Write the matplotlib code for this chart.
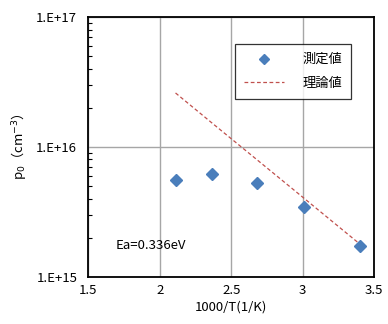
import matplotlib
matplotlib.use('Agg')
import matplotlib.pyplot as plt
from matplotlib.ticker import LogLocator, FixedLocator, NullFormatter

plt.rcParams['font.family'] = ['Noto Sans CJK JP', 'DejaVu Sans']
plt.rcParams['mathtext.fontset'] = 'dejavusans'

# measured data (1000/T, p0)
inv_t = [2.11, 2.367, 2.68, 3.006, 3.40]
p0_meas = [5.6e15, 6.2e15, 5.3e15, 3.45e15, 1.72e15]

# theoretical values at the same temperatures
p0_theory = [2.6e16, 1.52e16, 7.95e15, 4.04e15, 1.78e15]

x_ticks = [1.5, 2, 2.5, 3, 3.5]
y_ticks = [1e15, 1e16, 1e17]
y_labels = ['1.E+15', '1.E+16', '1.E+17']

fs = 9.5

fig = plt.figure(figsize=(3.88, 3.24), dpi=100)
ax = fig.add_axes([88.3 / 388, 1 - 276.7 / 324, 286 / 388, 259.7 / 324])

ax.plot(inv_t, p0_meas, linestyle='none', marker='D', markersize=6,
        color='#4a7ebb', label='測定値', zorder=3)
ax.plot(inv_t, p0_theory, linestyle=(0, (3, 2)), linewidth=0.9,
        color='#c0504d', label='理論値', zorder=2)

ax.set_yscale('log')
ax.set_xlim(1.5, 3.5)
ax.set_ylim(1e15, 1e17)
ax.xaxis.set_major_locator(FixedLocator(x_ticks))
ax.set_xticklabels(['1.5', '2', '2.5', '3', '3.5'])
ax.yaxis.set_major_locator(FixedLocator(y_ticks))
ax.set_yticklabels(y_labels)
ax.yaxis.set_minor_locator(LogLocator(base=10, subs=range(2, 10)))
ax.yaxis.set_minor_formatter(NullFormatter())

ax.grid(True, which='major', color='#a6a6a6', linewidth=1.0)
ax.tick_params(axis='x', which='both', length=0, labelsize=fs, pad=5)
ax.tick_params(axis='y', which='major', length=0, labelsize=fs, pad=8)
ax.tick_params(axis='y', which='minor', direction='in', length=3, width=0.8)
for s in ax.spines.values():
    s.set_linewidth(1.3)
    s.set_color('black')

ax.set_xlabel('1000/T(1/K)', fontsize=fs, labelpad=3)
ax.set_ylabel('p$_0$（cm$^{-3}$）', fontsize=fs, labelpad=6)

ax.text(0.095, 0.12, 'Ea=0.336eV', transform=ax.transAxes, fontsize=fs,
        va='center', ha='left')

leg = ax.legend(loc='upper right', bbox_to_anchor=(0.92, 0.896), fontsize=fs,
                frameon=True, fancybox=False, edgecolor='black',
                borderaxespad=0, markerscale=0.8,
                handlelength=3.0, borderpad=0.7, labelspacing=0.8,
                handletextpad=1.4, markerfirst=True)
leg.get_frame().set_linewidth(0.9)

fig.savefig('out.png', dpi=100, facecolor='white')
